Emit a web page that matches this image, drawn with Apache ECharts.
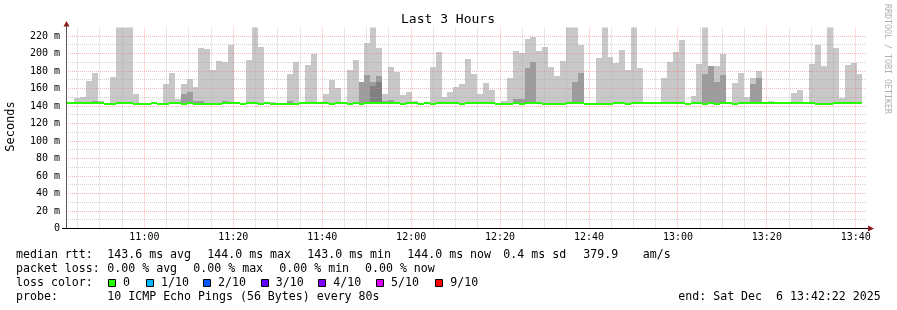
<!DOCTYPE html>
<html><head><meta charset="utf-8">
<script src="https://cdn.jsdelivr.net/npm/echarts@6/dist/echarts.min.js"></script>
<style>html,body{margin:0;padding:0;background:#fff}#c{width:897px;height:310px}</style>
</head><body><div id="c"></div>
<script>
// ---- time axis (minutes since midnight) ----
const xMin = 642 + 22/60;          // 10:42:22
const xMax = 822 + 22/60;          // 13:42:22
const firstColumnStart = 641.5;    // 10:41:30
const columnMinutes = 80/60;       // one probe every 80 s
const yMin = 0, yMax = 230;
const smokeFloor = 143;

// max ping per 80 s column (ms), null = no smoke above median
const smokeMax = [
  null,null,
  149,150,169,178,145.5,null,173,230,230,230,
  154,null,null,null,null,165,178,148,165,171,
  162,206.5,205,181,191.5,190.5,210,null,null,193,
  230,207.5,null,144.6,null,null,177,190.5,null,187,
  199.5,null,154,170,161,null,181,193,168,212,
  230,206.5,154,185,179,152.5,156,146,null,null,
  185,202,150,156,162,165,194,177,154,166,
  158,null,145.4,172,203,201,217,219,203,207.5,
  185,174.5,191.5,230,230,210,null,null,195,230,
  196,189,204,181,230,183.5,null,null,null,172,
  190.5,202,215.5,null,151.5,188,230,186,186,199.5,
  null,166,178,150,172,180,null,146,null,null,
  null,155,158,null,188,210,186,230,206.5,149,
  187,189,177
];
// second-highest ping band (darker smoke)
const smokeMid = [
  null,null,
  null,null,null,146,null,null,null,null,null,null,
  null,null,null,null,null,null,null,null,154,156,
  145.5,145.5,null,null,null,146,null,null,null,null,
  null,null,null,null,null,null,145.5,null,null,null,
  null,null,null,null,null,null,null,null,168,175.5,
  167.5,174.5,146,147,null,null,null,null,null,null,
  null,null,null,null,null,null,null,null,null,null,
  null,null,null,null,148,148,183.5,190.5,null,null,
  null,null,null,null,167.5,178,null,null,null,null,
  null,null,null,null,null,null,null,null,null,null,
  null,null,null,null,null,null,176.5,186,167.5,175.5,
  null,null,null,null,165.5,172,null,null,null,null,
  null,null,null,null,null,null,null,null,null,null,
  null,null,null
];
// third band (darkest smoke)
const smokeInner = [
  null,null,
  null,null,null,null,null,null,null,null,null,null,
  null,null,null,null,null,null,null,null,null,null,
  null,null,null,null,null,null,null,null,null,null,
  null,null,null,null,null,null,null,null,null,null,
  null,null,null,null,null,null,null,null,null,null,
  163,168,null,null,null,null,null,null,null,null,
  null,null,null,null,null,null,null,null,null,null,
  null,null,null,null,null,null,null,null,null,null,
  null,null,null,null,null,null,null,null,null,null,
  null,null,null,null,null,null,null,null,null,null,
  null,null,null,null,null,null,null,null,null,null,
  null,null,null,null,null,null,null,null,null,null,
  null,null,null,null,null,null,null,null,null,null,
  null,null,null
];
// median rtt per column (ms)
const medianRtt = [
  144,144,
  144,144,144,144,144,143,143,144,144,144,
  143,143,143,144,143,143,144,144,143,144,
  143,143,143,143,143,144,144,144,143,144,
  144,143,144,143,143,143,143,143,144,144,
  144,144,144,143,144,144,143,144,143,144,
  144,144,144,144,144,143,144,144,143,144,
  143,144,144,144,144,143,144,144,144,144,
  144,143,143,143,144,143,144,144,144,143,
  143,143,143,144,144,144,143,143,143,143,
  143,144,144,143,144,144,144,144,144,144,
  144,144,144,143,144,144,143,144,143,144,
  144,143,144,144,144,144,144,144,144,144,
  144,144,144,144,144,143,143,143,144,144,
  144,144,144
];

// grid / tick values
const xLabelValues = [660,680,700,720,740,760,780,800,820];
const xMinorGrid = [645,650,655,665,670,675,685,690,695,705,710,715,725,730,735,745,750,755,765,770,775,785,790,795,805,810,815];
const yMajorGrid = [20,40,60,80,100,120,140,160,180,200,220];
const yMinorGrid = [10,30,50,70,90,110,130,150,170,190,210];

const lossColors = ['#26ff00','#00b8ff','#0059ff','#5e00ff','#7e00ff','#dd00ff','#ff0000'];
const lossLabels = ['0','1/10','2/10','3/10','4/10','5/10','9/10'];

function colStart(i){ return firstColumnStart + i*columnMinutes; }
function layer(arr){
  const out = [];
  arr.forEach((v,i)=>{ if(v!=null) out.push([colStart(i), colStart(i+1), smokeFloor, v]); });
  return out;
}
const medianCols = medianRtt.map((v,i)=>[colStart(i), colStart(i+1), v]);

function renderRect(params, api){
  const a = api.coord([api.value(0), api.value(3)]);
  const b = api.coord([api.value(1), api.value(2)]);
  const x0 = Math.round(a[0]), x1 = Math.round(b[0]);
  const y0 = Math.round(a[1]), y1 = Math.round(b[1]);
  return {type:'rect', shape:{x:x0, y:y0, width:x1-x0, height:y1-y0}, style:{fill: api.visual('color')}};
}
function renderMedian(params, api){
  const a = api.coord([api.value(0), api.value(2)]);
  const b = api.coord([api.value(1), api.value(2)]);
  const cs = params.coordSys;
  const x0 = Math.max(Math.round(a[0]), Math.round(cs.x));
  const x1 = Math.min(Math.round(b[0]), Math.round(cs.x + cs.width));
  if (x1 <= x0) return null;
  const y = Math.ceil(a[1]) - 1;
  return {type:'rect', shape:{x:x0, y:y, width:x1-x0, height:2}, style:{fill:'#26ff00'}};
}
function vLine(color){
  return function(params, api){
    const t = api.coord([api.value(0), yMax]);
    const b = api.coord([api.value(0), yMin]);
    const x = Math.floor(t[0]) + 0.5;
    return {type:'line', shape:{x1:x, y1:t[1], x2:x, y2:b[1]}, style:{stroke:color, lineWidth:1, lineDash:[1,1]}};
  };
}
function hLine(color){
  return function(params, api){
    const l = api.coord([xMin, api.value(1)]);
    const r = api.coord([xMax, api.value(1)]);
    const y = Math.floor(l[1]) + 0.5;
    return {type:'line', shape:{x1:l[0], y1:y, x2:r[0], y2:y}, style:{stroke:color, lineWidth:1, lineDash:[1,1]}};
  };
}
const majorColor = 'rgba(255,110,110,0.5)';
const minorColor = 'rgba(170,170,170,0.55)';
const pad = n => (n<10?'0':'')+n;
const mono = 'DejaVu Sans Mono';

function txt(text, x, y, size, opts){
  opts = opts || {};
  return {type:'text', x:x, y:y, rotation: opts.rotation||0, z:100, silent:true,
    style:{text:text, x:0, y:0, fill: opts.fill||'#000', font: size+'px "'+mono+'"',
      align: opts.align||'left', verticalAlign:'middle', textAlign: opts.align||'left', textVerticalAlign:'middle'}};
}

const graphics = [
  txt('Last 3 Hours', 448, 20, 13, {align:'center'}),
  txt('Seconds', 11, 126.5, 12, {align:'center', rotation: Math.PI/2}),
  txt('RRDTOOL / TOBI OETIKER', 887, 59, 8.3, {align:'center', rotation: -Math.PI/2, fill:'#b0b0b0'}),
  // axis lines and arrows
  {type:'line', z:50, silent:true, shape:{x1:66.5, y1:22, x2:66.5, y2:228.5}, style:{stroke:'#555', lineWidth:1}},
  {type:'line', z:50, silent:true, shape:{x1:62, y1:228.5, x2:870, y2:228.5}, style:{stroke:'#000', lineWidth:1}},
  {type:'polygon', z:51, silent:true, shape:{points:[[63.5,26.5],[69.5,26.5],[66.5,21]]}, style:{fill:'#8b1a1a'}},
  {type:'polygon', z:51, silent:true, shape:{points:[[868,225.5],[868,231.5],[874,228.5]]}, style:{fill:'#8b1a1a'}},
  // legend
  txt('median rtt:', 16, 254.5, 11.6),
  txt('143.6 ms avg', 107.3, 254.5, 11.6),
  txt('144.0 ms max', 207.3, 254.5, 11.6),
  txt('143.0 ms min', 307.3, 254.5, 11.6),
  txt('144.0 ms now', 407.3, 254.5, 11.6),
  txt('0.4 ms sd', 503.3, 254.5, 11.6),
  txt('379.9', 583.3, 254.5, 11.6),
  txt('am/s', 642.7, 254.5, 11.6),
  txt('packet loss:', 16, 268.5, 11.6),
  txt('0.00 % avg', 107.3, 268.5, 11.6),
  txt('0.00 % max', 193.3, 268.5, 11.6),
  txt('0.00 % min', 279.3, 268.5, 11.6),
  txt('0.00 % now', 365, 268.5, 11.6),
  txt('loss color:', 16, 282.5, 11.6),
  txt('probe:', 16, 296.5, 11.6),
  txt('10 ICMP Echo Pings (56 Bytes) every 80s', 107.3, 296.5, 11.6),
  txt('end: Sat Dec  6 13:42:22 2025', 678.3, 296.5, 11.6)
];
const boxX = [108,146,203,260.7,318.3,376,435.3];
boxX.forEach((bx,i)=>{
  const x = Math.round(bx)+0.5;
  graphics.push({type:'rect', z:100, silent:true, shape:{x:x, y:279.5, width:7, height:7}, style:{fill:lossColors[i], stroke:'#000', lineWidth:1}});
  graphics.push(txt(lossLabels[i], bx+15, 282.5, 11.6));
});

const chart = echarts.init(document.getElementById('c'), null, {renderer:'canvas'});
chart.setOption({
  animation:false,
  backgroundColor:'#fff',
  grid:{left:66, right:30.7, top:27.4, bottom:81.5, containLabel:false},
  xAxis:{type:'value', min:xMin, max:xMax,
    axisLine:{show:false}, axisTick:{show:false}, splitLine:{show:false},
    axisLabel:{customValues:xLabelValues, margin:4, fontSize:10, fontFamily:mono, color:'#000',
      formatter:v=>pad(Math.floor(v/60))+':'+pad(Math.round(v%60))}},
  yAxis:{type:'value', min:yMin, max:yMax, interval:20,
    axisLine:{show:false}, axisTick:{show:false}, splitLine:{show:false},
    axisLabel:{margin:6, fontSize:10, fontFamily:mono, color:'#000',
      formatter:v=> v===0 ? '0' : (v%20===0 && v<=220 ? v+' m' : '')}},
  series:[
    {type:'custom', name:'smoke1', z:1, clip:true, renderItem:renderRect, itemStyle:{color:'#c8c8c8'},
      encode:{x:[0,1], y:[2,3]}, data:layer(smokeMax)},
    {type:'custom', name:'smoke2', z:1, clip:true, renderItem:renderRect, itemStyle:{color:'#9c9c9c'},
      encode:{x:[0,1], y:[2,3]}, data:layer(smokeMid)},
    {type:'custom', name:'smoke3', z:1, clip:true, renderItem:renderRect, itemStyle:{color:'#808080'},
      encode:{x:[0,1], y:[2,3]}, data:layer(smokeInner)},
    {type:'custom', name:'vminor', z:2, silent:true, renderItem:vLine(minorColor), encode:{x:0,y:1}, data:xMinorGrid.map(v=>[v,0])},
    {type:'custom', name:'hminor', z:2, silent:true, renderItem:hLine(minorColor), encode:{x:0,y:1}, data:yMinorGrid.map(v=>[xMin,v])},
    {type:'custom', name:'vmajor', z:2, silent:true, renderItem:vLine(majorColor), encode:{x:0,y:1}, data:xLabelValues.map(v=>[v,0])},
    {type:'custom', name:'hmajor', z:2, silent:true, renderItem:hLine(majorColor), encode:{x:0,y:1}, data:yMajorGrid.map(v=>[xMin,v])},
    {type:'custom', name:'median', z:3, silent:true, renderItem:renderMedian,
      encode:{x:[0,1], y:2}, data:medianCols}
  ],
  graphic:graphics
});
</script>
</body></html>
